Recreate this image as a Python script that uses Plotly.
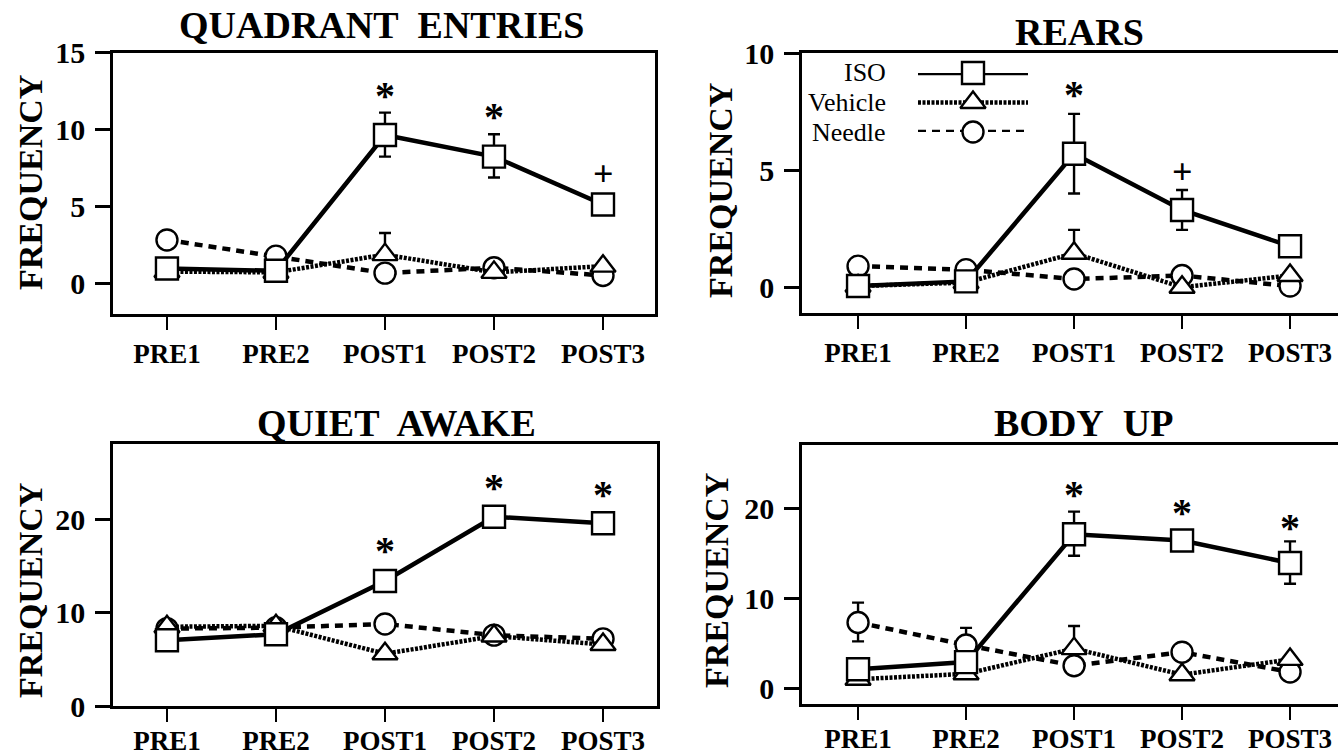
import plotly.graph_objects as go

W, H = 1338, 755

categories = ["PRE1", "PRE2", "POST1", "POST2", "POST3"]
groups = ["ISO", "Vehicle", "Needle"]

# ---- QUADRANT ENTRIES ----
qe_iso = [1.0, 0.85, 9.65, 8.25, 5.15]
qe_iso_plus = [0, 0, 1.45, 1.45, 0]
qe_iso_minus = [0, 0, 1.4, 1.35, 0]
qe_veh = [0.8, 0.75, 1.9, 0.75, 1.15]
qe_veh_plus = [0, 0, 1.4, 0, 0]
qe_veh_minus = [0, 0, 0, 0, 0]
qe_ndl = [2.85, 1.8, 0.7, 1.05, 0.55]
qe_ndl_plus = [0, 0, 0, 0, 0]
qe_ndl_minus = [0, 0, 0, 0, 0]
qe_sig_x = ["POST1", "POST2", "POST3"]
qe_sig_y = [12.5, 11.1, 7.1]
qe_sig_t = ["*", "*", "+"]
qe_yticks = [0, 5, 10, 15]

# ---- REARS ----
re_iso = [0.05, 0.25, 5.7, 3.3, 1.75]
re_iso_plus = [0, 0, 1.7, 0.85, 0]
re_iso_minus = [0, 0, 1.7, 0.85, 0]
re_veh = [0.05, 0.2, 1.45, 0.0, 0.5]
re_veh_plus = [0, 0, 1.0, 0, 0]
re_veh_minus = [0, 0, 0, 0, 0]
re_ndl = [0.9, 0.75, 0.35, 0.5, 0.05]
re_ndl_plus = [0, 0, 0, 0, 0]
re_ndl_minus = [0, 0, 0, 0, 0]
re_sig_x = ["POST1", "POST2"]
re_sig_y = [8.4, 4.9]
re_sig_t = ["*", "+"]
re_yticks = [0, 5, 10]

# ---- QUIET AWAKE ----
qa_iso = [7.05, 7.7, 13.4, 20.3, 19.6]
qa_iso_plus = [0, 0, 0, 0, 0]
qa_iso_minus = [0, 0, 0, 0, 0]
qa_veh = [8.5, 8.6, 5.6, 7.5, 6.6]
qa_veh_plus = [0, 0, 0, 0, 0]
qa_veh_minus = [0, 0, 0, 0, 0]
qa_ndl = [8.3, 8.4, 8.8, 7.6, 7.2]
qa_ndl_plus = [0, 0, 0, 0, 0]
qa_ndl_minus = [0, 0, 0, 0, 0]
qa_sig_x = ["POST1", "POST2", "POST3"]
qa_sig_y = [17.1, 23.9, 23.1]
qa_sig_t = ["*", "*", "*"]
qa_yticks = [0, 10, 20]

# ---- BODY UP ----
bu_iso = [2.1, 2.9, 17.1, 16.4, 13.9]
bu_iso_plus = [0, 0, 2.5, 0, 2.4]
bu_iso_minus = [0, 0, 2.4, 0, 2.3]
bu_veh = [1.0, 1.6, 4.4, 1.5, 3.2]
bu_veh_plus = [0, 0, 2.5, 0, 0]
bu_veh_minus = [0, 0, 0, 0, 0]
bu_ndl = [7.3, 4.8, 2.5, 4.0, 1.8]
bu_ndl_plus = [2.2, 1.9, 0, 0, 0]
bu_ndl_minus = [2.1, 0, 0, 0, 0]
bu_sig_x = ["POST1", "POST2", "POST3"]
bu_sig_y = [22.0, 19.9, 18.3]
bu_sig_t = ["*", "*", "*"]
bu_yticks = [0, 10, 20]

titles = ["QUADRANT\u00a0 ENTRIES", "REARS", "QUIET\u00a0 AWAKE", "BODY\u00a0 UP"]
ylabel = "FREQUENCY"


def px_x(v):
    return v / W


def px_y(v):
    return 1 - v / H


panels = [
    dict(series=[(qe_ndl, qe_ndl_plus, qe_ndl_minus), (qe_veh, qe_veh_plus, qe_veh_minus), (qe_iso, qe_iso_plus, qe_iso_minus)],
         sig=(qe_sig_x, qe_sig_y, qe_sig_t), yticks=qe_yticks,
         box=(113, 655, 52.5, 314), xr=[-0.495, 4.477], yr=[-1.95, 15], mirror_right=True,
         title_xy=(382, 25), ylab_xy=(30, 183), standoff=1),
    dict(series=[(re_ndl, re_ndl_plus, re_ndl_minus), (re_veh, re_veh_plus, re_veh_minus), (re_iso, re_iso_plus, re_iso_minus)],
         sig=(re_sig_x, re_sig_y, re_sig_t), yticks=re_yticks,
         box=(802, 1338, 53, 313), xr=[-0.519, 4.444], yr=[-1.1, 10], mirror_right=False,
         title_xy=(1079, 32), ylab_xy=(720, 191), standoff=1),
    dict(series=[(qa_ndl, qa_ndl_plus, qa_ndl_minus), (qa_veh, qa_veh_plus, qa_veh_minus), (qa_iso, qa_iso_plus, qa_iso_minus)],
         sig=(qa_sig_x, qa_sig_y, qa_sig_t), yticks=qa_yticks,
         box=(113, 657, 444, 706), xr=[-0.495, 4.495], yr=[0, 28.1], mirror_right=True,
         title_xy=(396, 423), ylab_xy=(30, 591), standoff=-4),
    dict(series=[(bu_ndl, bu_ndl_plus, bu_ndl_minus), (bu_veh, bu_veh_plus, bu_veh_minus), (bu_iso, bu_iso_plus, bu_iso_minus)],
         sig=(bu_sig_x, bu_sig_y, bu_sig_t), yticks=bu_yticks,
         box=(802, 1338, 445, 704), xr=[-0.519, 4.444], yr=[-1.75, 27], mirror_right=False,
         title_xy=(1083, 423), ylab_xy=(716, 580), standoff=-4),
]

styles = [  # Needle, Vehicle, ISO
    dict(dash="8px,6px", symbol="circle", size=21),
    dict(dash="3px,1.5px", symbol="triangle-up", size=22),
    dict(dash="solid", symbol="square", size=22),
]

FONT = "Liberation Serif"
fig = go.Figure()
annotations = []

for i, p in enumerate(panels):
    n = i + 1
    xa = "x" if n == 1 else f"x{n}"
    ya = "y" if n == 1 else f"y{n}"
    for (vals, plus, minus), st in zip(p["series"], styles):
        fig.add_trace(go.Scatter(
            x=categories, y=vals, xaxis=xa, yaxis=ya, mode="lines+markers",
            line=dict(color="black", width=4.5, dash=st["dash"]),
            marker=dict(symbol=st["symbol"], size=st["size"], color="white",
                        line=dict(color="black", width=2.4)),
            error_y=dict(type="data", symmetric=False, array=plus, arrayminus=minus,
                         color="black", thickness=2.4, width=6),
            cliponaxis=False, showlegend=False, hoverinfo="skip"))
    sx, sy, st_ = p["sig"]
    for a, b, t in zip(sx, sy, st_):
        annotations.append(dict(x=a, y=b, xref=xa, yref=ya, text=f"<b>{t}</b>", showarrow=False,
                                font=dict(family=FONT, size=40 if t == "*" else 36, color="black"),
                                yshift=-4 if t == "*" else 0))
    x0, x1, y0, y1 = p["box"]
    axis_common = dict(showline=True, linecolor="black", linewidth=2.5, ticks="outside",
                       tickcolor="black", showgrid=False, zeroline=False, automargin=False)
    fig.update_layout(**{
        ("xaxis" if n == 1 else f"xaxis{n}"): dict(
            axis_common, domain=[px_x(x0), px_x(x1)], range=p["xr"], type="category",
            mirror=True, ticklen=13, tickwidth=2.2, anchor=ya,
            tickfont=dict(family=FONT, size=27, color="black", weight="bold"),
            ticklabelstandoff=p["standoff"]),
        ("yaxis" if n == 1 else f"yaxis{n}"): dict(
            axis_common, domain=[px_y(y1), px_y(y0)], range=p["yr"], tickvals=p["yticks"],
            mirror=p["mirror_right"], ticklen=15, tickwidth=2.5, anchor=xa,
            tickfont=dict(family=FONT, size=30, color="black", weight="bold"), ticklabelstandoff=4),
    })
    tx, ty = p["title_xy"]
    annotations.append(dict(x=px_x(tx), y=px_y(ty), xref="paper", yref="paper",
                            text=f"<b>{titles[i]}</b>", showarrow=False,
                            font=dict(family=FONT, size=38, color="black"),
                            xanchor="center", yanchor="middle"))
    lx, ly = p["ylab_xy"]
    annotations.append(dict(x=px_x(lx), y=px_y(ly), xref="paper", yref="paper",
                            text=f"<b>{ylabel}</b>", showarrow=False, textangle=-90,
                            font=dict(family=FONT, size=34, color="black"),
                            xanchor="center", yanchor="middle"))

# ---- legend (inside REARS panel) ----
leg_rows_y = [73, 103, 132]  # ISO, Vehicle, Needle (pixel rows)
leg_style = [styles[2], styles[1], styles[0]]
fig.update_layout(
    xaxis5=dict(domain=[px_x(918), px_x(1028)], range=[0, 1], visible=False, anchor="y5",
                fixedrange=True, automargin=False),
    yaxis5=dict(domain=[px_y(132), px_y(73)], range=[0, 1], visible=False, anchor="x5",
                fixedrange=True, automargin=False),
)
leg_pos = [1.0, 0.5, 0.0]
for g, st, yp, ypx in zip(groups, leg_style, leg_pos, leg_rows_y):
    fig.add_trace(go.Scatter(x=[0, 1], y=[yp, yp], xaxis="x5", yaxis="y5", mode="lines",
                             line=dict(color="black", width=4.5, dash=st["dash"]),
                             cliponaxis=False, showlegend=False, hoverinfo="skip"))
    fig.add_trace(go.Scatter(x=[0.5], y=[yp], xaxis="x5", yaxis="y5", mode="markers",
                             marker=dict(symbol=st["symbol"], size=st["size"], color="white",
                                         line=dict(color="black", width=2.4)),
                             cliponaxis=False, showlegend=False, hoverinfo="skip"))
    annotations.append(dict(x=px_x(888), y=px_y(ypx), xref="paper", yref="paper", text=g,
                            showarrow=False, xanchor="right", yanchor="middle",
                            font=dict(family=FONT, size=26, color="black")))

fig.update_layout(width=W, height=H, margin=dict(l=0, r=0, t=0, b=0, autoexpand=False),
                  paper_bgcolor="white", plot_bgcolor="white", showlegend=False,
                  annotations=annotations)
fig.write_html("out.html", config={"displayModeBar": False},
               post_script="document.body.style.margin='0px';")
